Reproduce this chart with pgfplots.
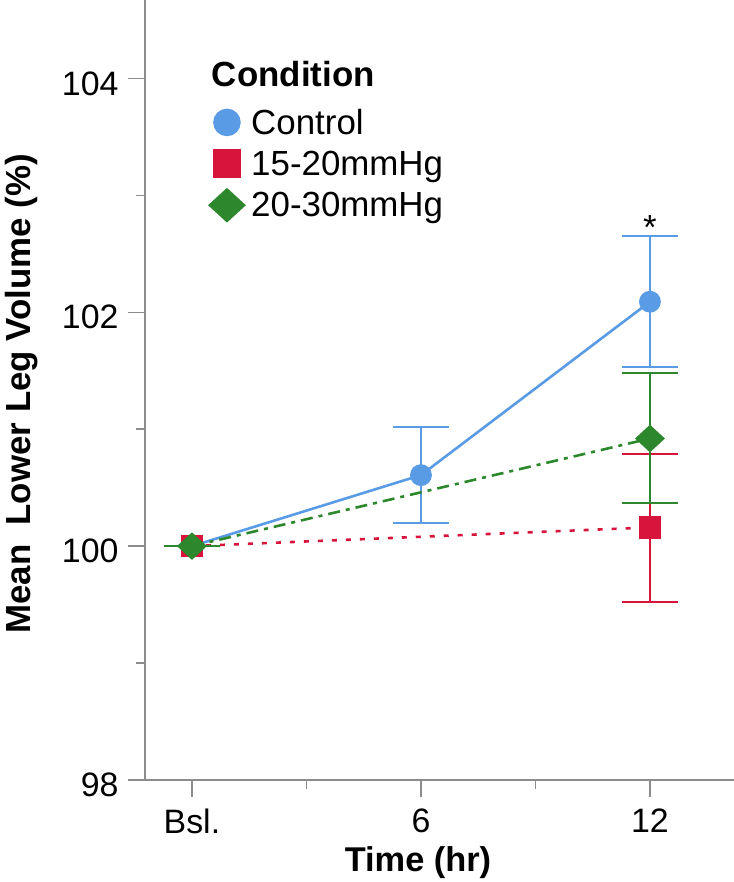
\documentclass[border=0pt]{standalone}
\usepackage{fontspec}
\setmainfont{Liberation Sans}
\usepackage{pgfplots}
\pgfplotsset{compat=1.18}
\definecolor{cblue}{HTML}{5A9BE6}
\definecolor{cred}{HTML}{D7143C}
\definecolor{cgreen}{HTML}{2D872D}
\definecolor{axgray}{HTML}{8C8C8C}
\newcommand{\bigfont}{\fontsize{34}{40}\selectfont}
\begin{document}
\begin{tikzpicture}
\begin{axis}[
  name=ax,
  scale only axis,
  width=589bp, height=780bp,
  xmin=-0.205, xmax=2.367,
  ymin=98, ymax=104.67,
  axis x line*=bottom, axis y line*=left,
  axis line style={-, draw=axgray, line width=1.6bp},
  xtick={0,1,2}, xticklabels={Bsl.,6,12},
  minor xtick={0.5,1.5},
  ytick={98,100,102,104}, minor ytick={99,101,103},
  tick align=outside,
  major tick length=17bp, minor tick length=9bp,
  every tick/.style={draw=axgray, line width=1.4bp},
  tick label style={font=\bigfont},
  xticklabel style={yshift=-8bp},
  yticklabel style={xshift=-6bp, yshift=-5bp},
  /pgf/number format/assume math mode=true,
  xlabel={\textbf{Time (hr)}},
  ylabel={\textbf{Mean\ \ Lower Leg Volume (\%)}},
  every axis x label/.style={at={(axis description cs:0.4635,-0.1175)}, anchor=base, font=\fontsize{34.5}{40}\selectfont},
  every axis y label/.style={at={(axis description cs:-0.2377,0.495)}, rotate=90, anchor=north, inner sep=0pt, font=\fontsize{35}{40}\selectfont},
  legend style={name=leg, at={(rel axis cs:0.110,0.863)}, anchor=north west, draw=none, fill=none,
    font=\fontsize{35}{40}\selectfont, row sep=11bp, inner sep=0pt},
  legend cell align=left,
  legend image code/.code={\draw[#1, only marks, every mark/.append style={scale=1.3}] plot coordinates {(0bp,0bp)}; \path (21bp,0bp);},
  error bars/y dir=both, error bars/y explicit,
  error bars/error bar style={solid, line width=2bp},
  error bars/error mark options={rotate=90, mark size=28bp, line width=2bp, solid},
]
\addplot[cblue, line width=2.6bp, mark=*, mark size=9.6bp, mark options={solid, fill=cblue, draw=cblue}]
  coordinates {(0,100) +- (0,0) (1,100.607) += (0,0.408) -= (0,0.407) (2,102.09) += (0,0.564) -= (0,0.556)};
\addlegendentry{Control}
\addplot[cred, line width=2.6bp, dash pattern=on 5bp off 9bp, mark=square*, mark size=10bp, mark options={solid, fill=cred, draw=cred}]
  coordinates {(0,100) +- (0,0) (2,100.16) += (0,0.63) -= (0,0.635)};
\addlegendentry{15-20mmHg}
\addplot[cgreen, line width=2.6bp, dash pattern=on 12bp off 6bp on 4bp off 6bp, mark=diamond*, mark size=12bp, mark options={solid, fill=cgreen, draw=cgreen, xscale=1.45}]
  coordinates {(0,100) +- (0,0) (2,100.92) += (0,0.558) -= (0,0.554)};
\addlegendentry{20-30mmHg}
\node[anchor=base, font=\fontsize{35}{40}\selectfont, inner sep=0pt] at (axis cs:2,102.62) {*};
\end{axis}
\node[anchor=base west, font=\fontsize{35}{40}\selectfont\bfseries, inner sep=0pt] at ([xshift=2bp,yshift=20bp]leg.north west) {Condition};
\pgfresetboundingbox
\path[use as bounding box] ([xshift=-145bp,yshift=-102bp]ax.south west) rectangle (ax.north east);
\end{tikzpicture}
\end{document}
